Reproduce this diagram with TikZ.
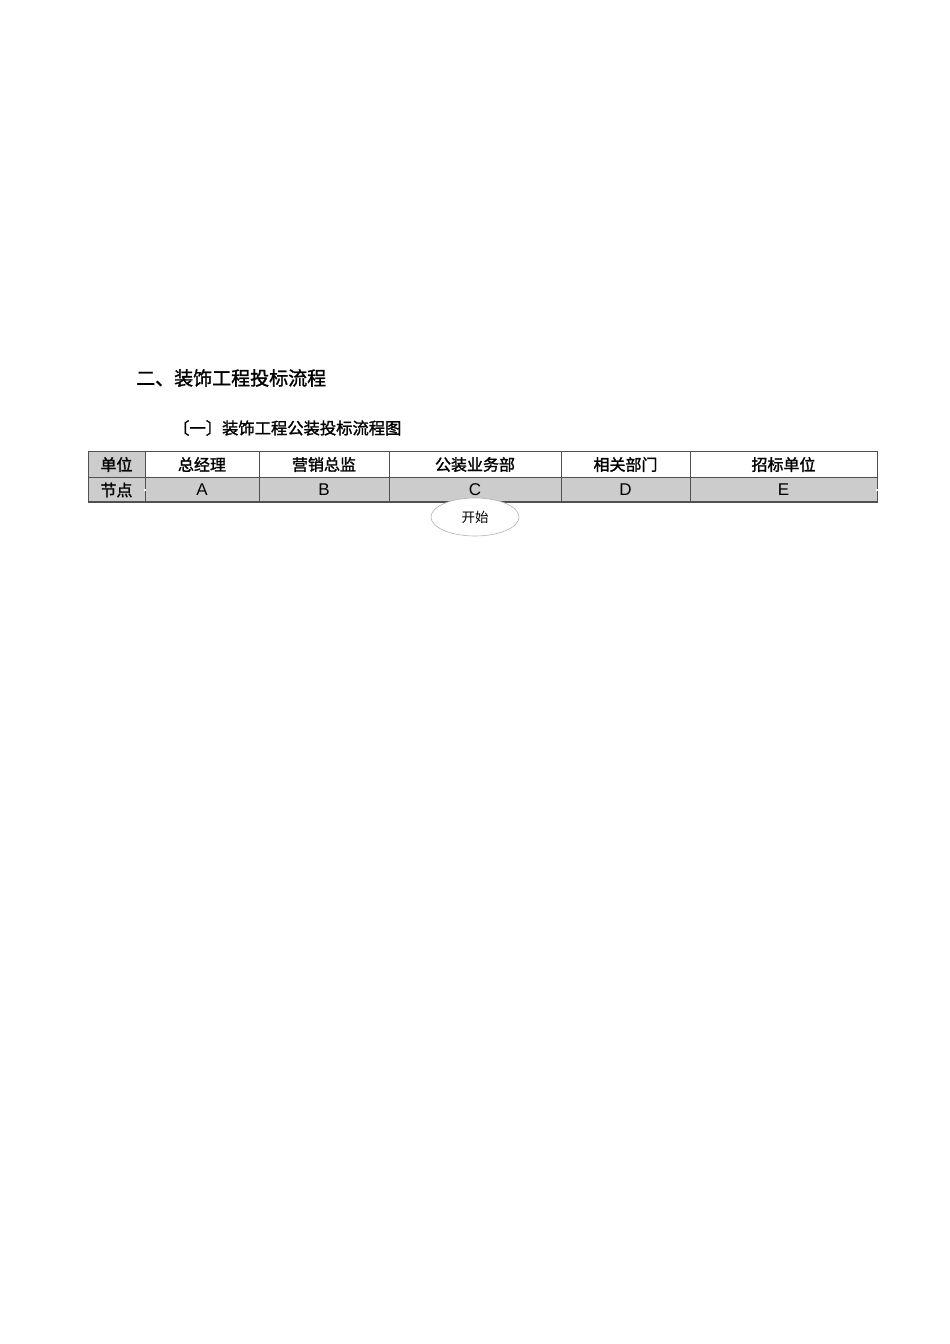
\documentclass[tikz,border=0pt]{standalone}
\usepackage{fontspec}
\setmainfont{Liberation Sans}
\newfontfamily\cjk{Noto Sans CJK SC}
\newfontfamily\cjkb{Noto Sans CJK SC}[FakeBold=1.5]
\usetikzlibrary{shapes.geometric}
\definecolor{cellgray}{RGB}{204,204,204}
\definecolor{linegray}{RGB}{80,80,80}
\begin{document}
\begin{tikzpicture}[x=1pt,y=-1pt,
  celltext/.style={font=\cjkb\fontsize{16}{16}\selectfont,anchor=center},
  lettertext/.style={font=\fontsize{17}{17}\selectfont,anchor=center}]
\useasboundingbox (0,0) rectangle (950,1344);
\fill[white] (0,0) rectangle (950,1344);
% titles
\node[font=\cjkb\fontsize{19}{19}\selectfont,anchor=west,inner sep=0pt] (title) at (136,378) {二、装饰工程投标流程};
\node[font=\cjkb\fontsize{16.3}{16.3}\selectfont,anchor=west,inner sep=0pt] (subtitle) at (173,428) {〔一〕装饰工程公装投标流程图};
% table
\fill[cellgray] (88,451) rectangle (145,477);
\fill[cellgray] (88,477) rectangle (877,502);
\draw[linegray,line width=0.9pt] (88,451) rectangle (877,502);
\draw[linegray,line width=0.9pt] (88,477) -- (877,477);
\draw[linegray,line width=1.8pt] (88,502) -- (877,502);
\foreach \xx in {145,259,389,561,690} {\draw[linegray,line width=0.9pt] (\xx,451) -- (\xx,502);}
\fill[white] (144,489) rectangle (146,491);
\fill[white] (876,489) rectangle (878,491);
\node[celltext] (h0) at (116.5,464.5) {单位};
\node[celltext] (h1) at (202,464.5) {总经理};
\node[celltext] (h2) at (324,464.5) {营销总监};
\node[celltext] (h3) at (475,464.5) {公装业务部};
\node[celltext] (h4) at (625.5,464.5) {相关部门};
\node[celltext] (h5) at (783.5,464.5) {招标单位};
\node[celltext] (n0) at (116.5,490) {节点};
\node[lettertext] (nA) at (202,490) {A};
\node[lettertext] (nB) at (324,490) {B};
\node[lettertext] (nC) at (475,490) {C};
\node[lettertext] (nD) at (625.5,490) {D};
\node[lettertext] (nE) at (783.5,490) {E};
% start ellipse
\node[ellipse,draw=gray!60,fill=white,line width=0.6pt,minimum width=88pt,minimum height=38pt,inner sep=0pt,font=\cjk\fontsize{13.5}{13.5}\selectfont] (start) at (475,517) {开始};
\end{tikzpicture}
\end{document}
